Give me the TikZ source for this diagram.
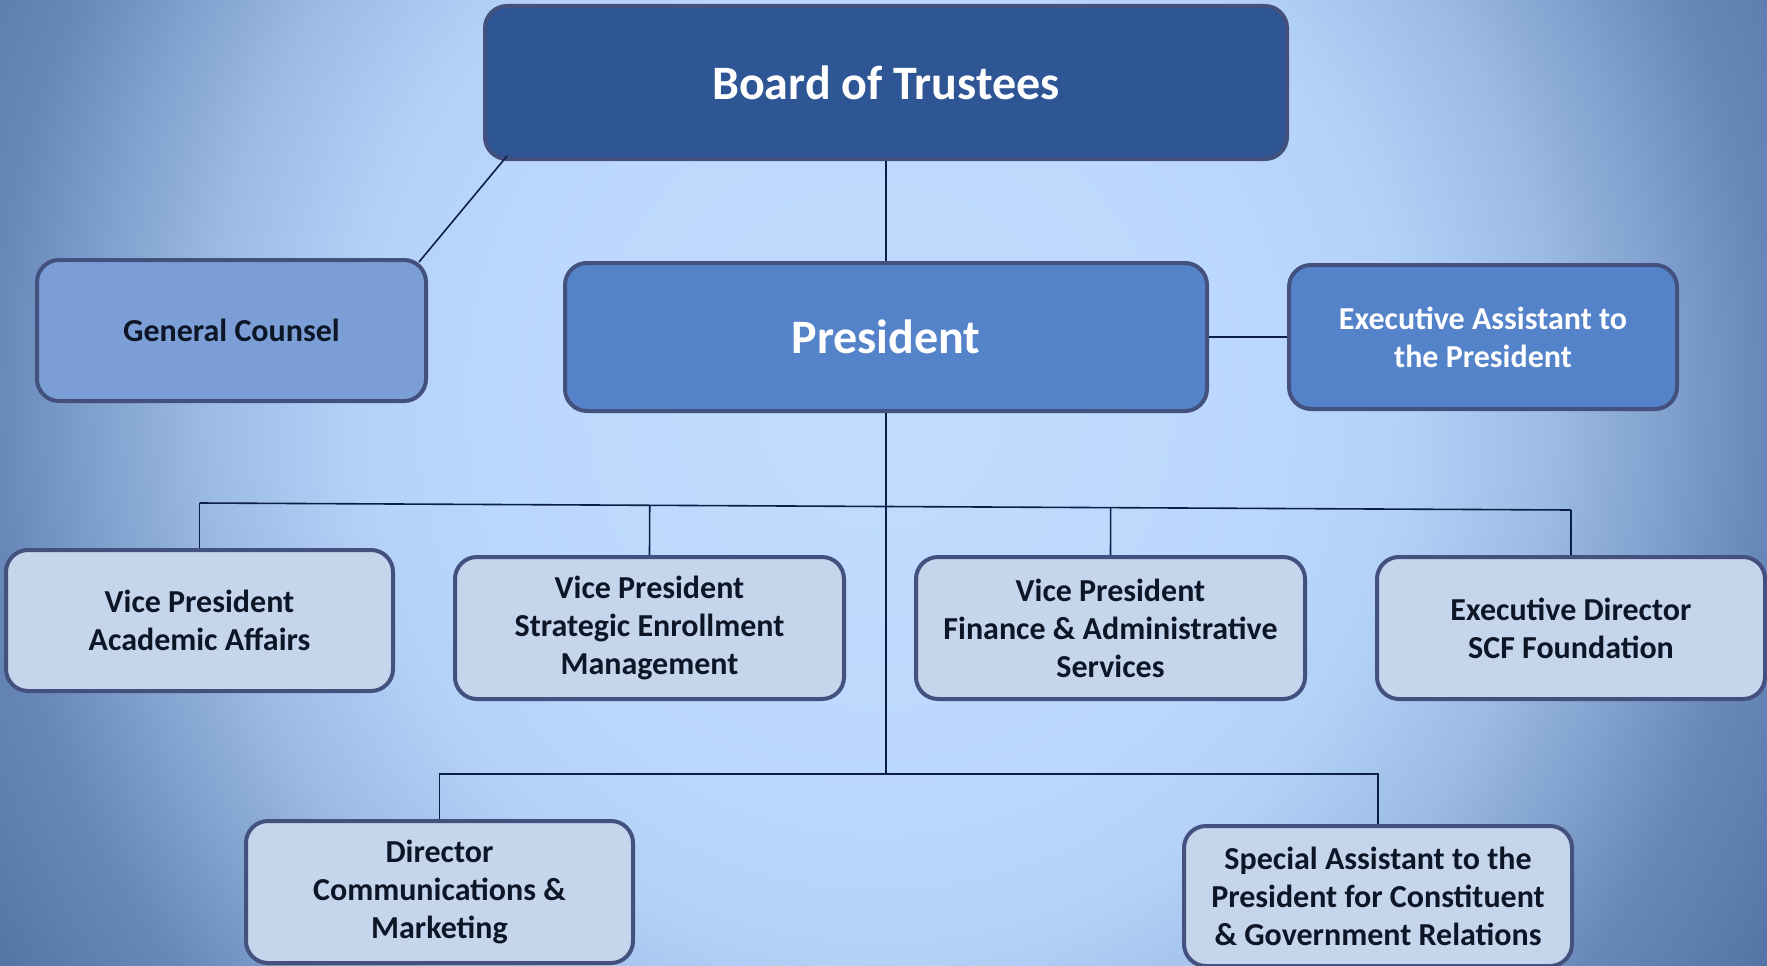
\documentclass[tikz,border=0pt]{standalone}
\usepackage{fontspec}
\setmainfont{Carlito}
\usetikzlibrary{calc}
\definecolor{bga}{HTML}{C0DDFF}
\definecolor{bgb}{HTML}{BCD9FD}
\definecolor{bgc}{HTML}{B4D2F8}
\definecolor{bgd}{HTML}{9BBBE4}
\definecolor{bge}{HTML}{6888BA}
\definecolor{bgf}{HTML}{5F7FB0}
\definecolor{bgg}{HTML}{5474A6}
\definecolor{bgh}{HTML}{4A6898}
\definecolor{boardfill}{HTML}{2E5594}
\definecolor{presfill}{HTML}{5583C9}
\definecolor{gcfill}{HTML}{7B9ED6}
\definecolor{lowfill}{HTML}{C5D5EC}
\definecolor{edgec}{HTML}{44507E}
\definecolor{linec}{HTML}{0B1E45}
\definecolor{darktext}{HTML}{0D1626}
\pgfdeclareradialshading{bgshade}{\pgfpoint{0bp}{0bp}}{color(0bp)=(bga); color(7.3bp)=(bgb); color(11.5bp)=(bgc); color(14.8bp)=(bgd); color(19.4bp)=(bge); color(21bp)=(bgf); color(22.7bp)=(bgg); color(25bp)=(bgh)}
\tikzset{
  orgbox/.style={draw=edgec, line width=4pt, rounded corners=22pt, align=center, inner sep=0pt, font=\bfseries\fontsize{32}{38}\selectfont},
  topbox/.style={orgbox, fill=boardfill, text=white, font=\bfseries\fontsize{48}{56}\selectfont},
  presbox/.style={orgbox, fill=presfill, text=white},
  gcbox/.style={orgbox, fill=gcfill, text=darktext},
  lowbox/.style={orgbox, fill=lowfill, text=darktext},
  conn/.style={draw=linec, line width=1.6pt}
}
\begin{document}
\begin{tikzpicture}[x=1pt, y=-1pt]
\useasboundingbox (0,0) rectangle (1767,966);
\begin{scope}
\clip (0,0) rectangle (1767,966);
\shade[shading=bgshade] (-260,-800) rectangle (2020,1600);
\end{scope}

\node[topbox, minimum width=802pt, minimum height=153pt] (board) at (886,82.5) {Board of Trustees};
\node[gcbox, minimum width=389pt, minimum height=141pt] (gc) at (231.5,330.5) {General Counsel};
\node[presbox, minimum width=642pt, minimum height=148pt, font=\bfseries\fontsize{48}{56}\selectfont] (pres) at (886,337) {President};
\node[presbox, minimum width=388pt, minimum height=144pt] (ea) at (1483,337) {Executive Assistant to\\the President};
\node[lowbox, minimum width=387pt, minimum height=141pt] (vpa) at (199.5,620.5) {Vice President\\Academic Affairs};
\node[lowbox, minimum width=389pt, minimum height=142pt] (vps) at (649.5,628) {Vice President\\Strategic Enrollment\\Management};
\node[lowbox, minimum width=389pt, minimum height=142pt] (vpf) at (1110.5,628) {Vice President\\Finance \& Administrative\\Services};
\node[lowbox, minimum width=388pt, minimum height=142pt] (ed) at (1571,628) {Executive Director\\SCF Foundation};
\node[lowbox, minimum width=387pt, minimum height=142pt] (dc) at (439.5,892) {Director\\Communications \&\\Marketing};
\node[lowbox, minimum width=388pt, minimum height=140pt] (sa) at (1378,896) {Special Assistant to the\\President for Constituent\\\& Government Relations};

\coordinate (busL) at (199.5,503);
\coordinate (busR) at (1571,510);
\coordinate (lowbus) at (886,774);

\draw[conn] ($(board.south west)+(24,-5)$) -- ($(gc.north east)+(-9,4)$);
\draw[conn] (board.south) -- (pres.north);
\draw[conn] (pres.east) -- (ea.west);
\draw[conn] (pres.south) -- (lowbus);
\draw[conn] (busL) -- (busR);
\draw[conn] (vpa.north) -- (busL);
\draw[conn] (vps.north) -- ($(busL)!(vps.north)!(busR)$);
\draw[conn] (vpf.north) -- ($(busL)!(vpf.north)!(busR)$);
\draw[conn] (ed.north) -- (busR);
\draw[conn] (dc.north) -- (dc.north |- lowbus) -- (sa.north |- lowbus) -- (sa.north);
\end{tikzpicture}
\end{document}
